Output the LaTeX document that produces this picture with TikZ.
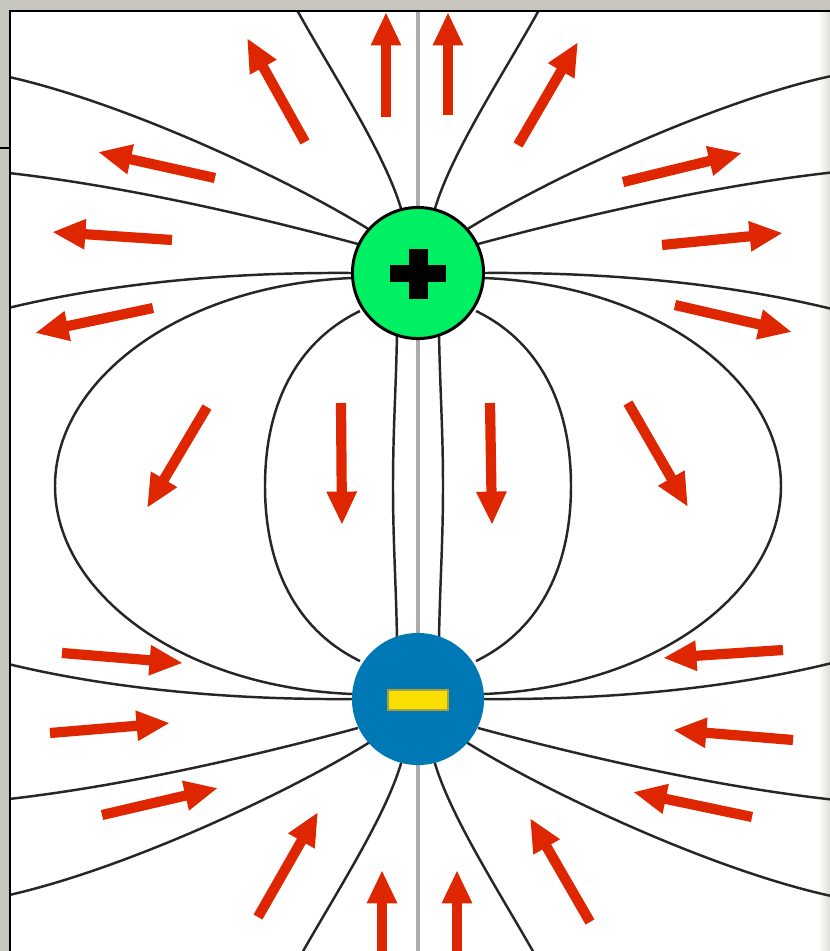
\documentclass[tikz,border=0pt]{standalone}
\usepackage{tikz}
\usetikzlibrary{arrows.meta, positioning}
\definecolor{framegray}{RGB}{198,198,190}
\definecolor{posgreen}{RGB}{0,240,100}
\definecolor{negblue}{RGB}{0,120,182}
\definecolor{minusyellow}{RGB}{250,222,0}
\definecolor{fieldred}{RGB}{222,38,0}
\tikzset{
  fieldline/.style={draw=black!85, line width=0.7pt},
  axisline/.style={draw=gray!65, line width=0.9pt},
  farrow/.style={-{Triangle[length=9.5pt, width=8pt]}, line width=2.9pt, draw=fieldred},
  charge/.style={circle, minimum size=#1, inner sep=0pt},
  charge/.default=1.31cm,
}
% one quarter of the field lines (upper left), mirrored below
\newcommand{\quarterlines}{%
  \draw[fieldline] (402,212) .. controls (385,150) and (320,55) .. (289,-5);
  \draw[fieldline] (370,230) .. controls (290,180) and (120,100) .. (0,75);
  \draw[fieldline] (358,244) .. controls (250,215) and (120,185) .. (0,172);
  \draw[fieldline] (352,273) .. controls (220,272) and (100,285) .. (0,310);
  \draw[fieldline] (352,278) .. controls (180,285) and (55,380) .. (55,486);
  \draw[fieldline] (360,311) .. controls (300,340) and (265,400) .. (265,486);
  \draw[fieldline] (397,333) .. controls (396,390) and (393,430) .. (393,486);
}

\begin{document}
\begin{tikzpicture}[x=0.01cm, y=-0.01cm]
  \useasboundingbox (0,0) rectangle (830,951);
  \fill[framegray] (0,0) rectangle (830,951);
  \fill[white] (10,11) rectangle (830,951);
  \shade[left color=white, right color=framegray!60] (818,11) rectangle (830,951);

  \begin{scope}
    \clip (10,11) rectangle (830,951);
    \draw[axisline] (418,0) -- (418,951);
    \foreach \sx/\sy/\dx/\dy in {1/1/0/0, -1/1/836/0, 1/-1/0/972, -1/-1/836/972}{
      \begin{scope}[shift={(\dx,\dy)}, xscale=\sx, yscale=\sy]
        \quarterlines
      \end{scope}
    }
  \end{scope}

  \draw[line width=0.85pt] (10,951) |- (830,11);
  \draw[line width=0.8pt] (0,148) -- (10,148);

  \node[charge, draw=black, line width=0.85pt, fill=posgreen] (pos) at (418,273) {};
  \fill (pos.center) ++(-28,-8) rectangle ++(56,17);
  \fill (pos.center) ++(-9.5,-24) rectangle ++(19,50);

  \node[charge=1.32cm, fill=negblue] (neg) at (418,699) {};
  \filldraw[fill=minusyellow, draw=yellow!60!black, line width=0.4pt]
    (neg.center) ++(-30,-9) rectangle ++(60,20);

  \foreach \xa/\ya/\xb/\yb in {305/142/247/38, 386/117/386/12, 448/115/448/12,
      518/145/578/42, 215/178/98/152, 623/182/742/153, 172/240/52/232,
      662/245/783/233, 153/308/35/333, 675/305/792/332, 207/407/147/508,
      341/403/342/525, 490/403/492/525, 628/403/688/507, 62/653/183/663,
      783/650/663/658, 50/733/170/723, 793/740/673/730, 102/815/218/788,
      752/817/633/792, 258/917/318/812, 590/922/530/818, 382/955/382/870,
      457/955/457/870}
    \draw[farrow] (\xa,\ya) -- (\xb,\yb);
\end{tikzpicture}
\end{document}
